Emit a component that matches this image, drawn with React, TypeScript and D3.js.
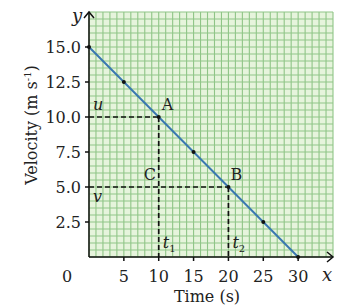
import * as d3 from "d3";

// velocity–time line and the sampled points on it
const times = [0, 5, 10, 15, 20, 25, 30];
const velocities = [15, 12.5, 10, 7.5, 5, 2.5, 0];
const xTicks = [5, 10, 15, 20, 25, 30];
const yTicks = [2.5, 5.0, 7.5, 10.0, 12.5, 15.0];

// marked points A (t1, u) and B (t2, v)
const pointA = { t: 10, v: 10 };
const pointB = { t: 20, v: 5 };

const width = 346;
const height = 307;
const margin = { top: 12, right: 13, bottom: 50, left: 89 };
const font = "'DejaVu Serif', serif";

export default function App() {
  const x = d3.scaleLinear().domain([0, 35]).range([margin.left, width - margin.right]);
  const y = d3.scaleLinear().domain([0, 17.5]).range([height - margin.bottom, margin.top]);
  const gridX = d3.range(0, 36, 1);
  const gridY = d3.range(0, 17.51, 0.5);
  const line = d3
    .line<number>()
    .x((_, i) => x(times[i]))
    .y((v) => y(v));

  const x0 = x(0);
  const y0 = y(0);
  const dash = "5,3";

  return (
    <svg
      width={width}
      height={height}
      style={{ position: "absolute", left: 0, top: 0, background: "#fff" }}
      fontFamily={font}
    >
      <rect x={x(0)} y={y(17.5)} width={x(35) - x(0)} height={y(0) - y(17.5)} fill="#e6f4dc" />
      <g stroke="#8fc587" strokeWidth={1.1}>
        {gridX.map((t) => (
          <line key={`gx${t}`} x1={x(t)} x2={x(t)} y1={y(0)} y2={y(17.5)} />
        ))}
        {gridY.map((v) => (
          <line key={`gy${v}`} x1={x(0)} x2={x(35)} y1={y(v)} y2={y(v)} />
        ))}
      </g>

      {/* dashed guides */}
      <g stroke="#111" strokeWidth={1.7} strokeDasharray={dash} fill="none">
        <line x1={x0} x2={x(pointA.t)} y1={y(pointA.v)} y2={y(pointA.v)} />
        <line x1={x(pointA.t)} x2={x(pointA.t)} y1={y(pointA.v)} y2={y0} />
        <line x1={x0} x2={x(pointB.t)} y1={y(pointB.v)} y2={y(pointB.v)} />
        <line x1={x(pointB.t)} x2={x(pointB.t)} y1={y(pointB.v)} y2={y0} />
      </g>

      <path d={line(velocities) ?? undefined} fill="none" stroke="#3a78b0" strokeWidth={2} />
      {times.map((t, i) => (
        <circle key={t} cx={x(t)} cy={y(velocities[i])} r={2} fill="#111" />
      ))}

      {/* axes with open arrowheads */}
      <g stroke="#111" strokeWidth={1.5} fill="none">
        <line x1={x0} x2={x0} y1={y0} y2={y(17.5)} />
        <line x1={x0} x2={x(35)} y1={y0} y2={y0} />
        <polyline points={`${x0 - 5},${y(17.5) + 6} ${x0},${y(17.5)} ${x0 + 5},${y(17.5) + 6}`} />
        <polyline points={`${x(35) - 6},${y0 - 5} ${x(35)},${y0} ${x(35) - 6},${y0 + 5}`} />
        {xTicks.map((t) => (
          <line key={`xt${t}`} x1={x(t)} x2={x(t)} y1={y0} y2={y0 + 4} />
        ))}
        {yTicks.map((v) => (
          <line key={`yt${v}`} x1={x0 - 4} x2={x0} y1={y(v)} y2={y(v)} />
        ))}
      </g>

      <g fontSize={16} fill="#222">
        {xTicks.map((t) => (
          <text key={`xl${t}`} x={x(t)} y={y0 + 25} textAnchor="middle">
            {t}
          </text>
        ))}
        <text x={x0 - 22} y={y0 + 25} textAnchor="middle">
          0
        </text>
        {yTicks.map((v) => (
          <text key={`yl${v}`} x={x0 - 8} y={y(v)} dy="0.36em" textAnchor="end">
            {v.toFixed(1)}
          </text>
        ))}
        <text x={207} y={302} textAnchor="middle">
          Time (s)
        </text>
        <text transform={`translate(37, 125) rotate(-90)`} textAnchor="middle">
          Velocity (m s<tspan dy={-6} fontSize={10}>-1</tspan>
          <tspan dy={6}>)</tspan>
        </text>
        <text x={x0 - 12} y={y(17.5) + 10} fontStyle="italic" fontSize={18} textAnchor="middle">
          y
        </text>
        <text x={x(35) - 6} y={y0 + 24} fontStyle="italic" fontSize={18} textAnchor="middle">
          x
        </text>

        <text x={x0 + 4} y={y(pointA.v) - 7} fontStyle="italic">
          u
        </text>
        <text x={x0 + 4} y={y(pointB.v) + 15} fontStyle="italic">
          v
        </text>
        <text x={x(pointA.t) + 3} y={y(pointA.v) - 7}>
          A
        </text>
        <text x={x(pointB.t) + 2} y={y(pointB.v) - 7}>
          B
        </text>
        <text x={x(pointA.t) - 15} y={y(pointB.v) - 7}>
          C
        </text>
        <text x={x(pointA.t) + 4} y={y0 - 9} fontStyle="italic">
          t<tspan dy={4} fontSize={10} fontStyle="normal">1</tspan>
        </text>
        <text x={x(pointB.t) + 4} y={y0 - 9} fontStyle="italic">
          t<tspan dy={4} fontSize={10} fontStyle="normal">2</tspan>
        </text>
      </g>
    </svg>
  );
}
